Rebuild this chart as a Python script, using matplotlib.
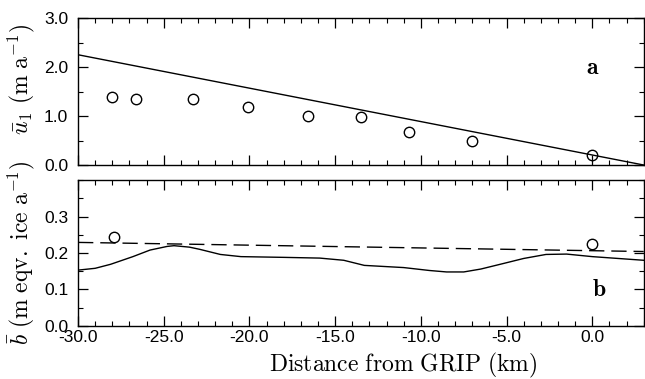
import matplotlib
matplotlib.use("Agg")
import matplotlib.pyplot as plt
from matplotlib.ticker import MultipleLocator, FormatStrFormatter

plt.rcParams["mathtext.fontset"] = "cm"
plt.rcParams["font.family"] = ["Liberation Sans", "DejaVu Sans"]
plt.rcParams["axes.unicode_minus"] = False

# panel a: mean horizontal velocity
u_line_x = [-30.0, 3.0]
u_line_y = [2.25, 0.0]
u_obs_x = [-28.0, -26.6, -23.3, -20.1, -16.6, -13.5, -10.7, -7.0, 0.0]
u_obs_y = [1.38, 1.35, 1.35, 1.18, 1.00, 0.99, 0.67, 0.50, 0.20]

# panel b: accumulation
b_dash_x = [-30.0, 3.0]
b_dash_y = [0.229, 0.204]
b_curve_x = [-30.0, -29.0, -28.1, -26.8, -25.8, -24.8, -24.4, -23.5, -22.9, -21.7,
             -20.5, -18.0, -15.9, -14.5, -13.3, -11.0, -9.5, -8.5, -7.5, -6.5,
             -5.2, -4.0, -2.7, -1.5, 0.0, 1.5, 3.0]
b_curve_y = [0.153, 0.158, 0.169, 0.190, 0.208, 0.218, 0.220, 0.216, 0.210, 0.196,
             0.190, 0.188, 0.186, 0.180, 0.166, 0.160, 0.152, 0.148, 0.148, 0.156,
             0.171, 0.185, 0.196, 0.197, 0.190, 0.185, 0.180]
b_obs_x = [-27.9, 0.0]
b_obs_y = [0.245, 0.225]

fig = plt.figure(figsize=(6.45, 3.79), dpi=100)
ax1 = fig.add_axes([0.121, 0.5646, 0.877, 0.3879])
ax2 = fig.add_axes([0.121, 0.140, 0.877, 0.385])

ax1.plot(u_line_x, u_line_y, color="black", lw=1.0)
ax1.plot(u_obs_x, u_obs_y, "o", ms=7.5, mfc="none", mec="black", mew=1.0)
ax1.set_ylim(0, 3.0)
ax1.yaxis.set_major_locator(MultipleLocator(1.0))
ax1.yaxis.set_minor_locator(MultipleLocator(0.5))
ax1.yaxis.set_major_formatter(FormatStrFormatter("%.1f"))
ax1.tick_params(labelbottom=False)
ax1.text(0.0, 1.98, r"$\mathbf{a}$", fontsize=17, ha="center", va="center")
ax1.set_ylabel(r"$\bar{u}_1\ (\mathrm{m\ a}^{-1})$", fontsize=17)
ax1.yaxis.set_label_coords(-0.072, 0.58)

ax2.plot(b_dash_x, b_dash_y, color="black", lw=1.0, dashes=(11, 5))
ax2.plot(b_curve_x, b_curve_y, color="black", lw=1.0)
ax2.plot(b_obs_x, b_obs_y, "o", ms=7.5, mfc="none", mec="black", mew=1.0)
ax2.set_ylim(0, 0.4)
ax2.set_yticks([0.0, 0.1, 0.2, 0.3])
ax2.yaxis.set_minor_locator(MultipleLocator(0.05))
ax2.yaxis.set_major_formatter(FormatStrFormatter("%.1f"))
ax2.xaxis.set_major_formatter(FormatStrFormatter("%.1f"))
ax2.text(0.4, 0.098, r"$\mathbf{b}$", fontsize=17, ha="center", va="center")
ax2.set_ylabel(r"$\bar{b}\ (\mathrm{m\ eqv.\ ice\ a}^{-1})$", fontsize=17)
ax2.yaxis.set_label_coords(-0.072, 0.5)
ax2.set_xlabel(r"$\mathrm{Distance\ from\ GRIP\ (km)}$", fontsize=17)
ax2.xaxis.set_label_coords(0.574, -0.17)

for ax in (ax1, ax2):
    ax.set_xlim(-30, 3)
    ax.xaxis.set_major_locator(MultipleLocator(5))
    ax.xaxis.set_minor_locator(MultipleLocator(1))
    ax.tick_params(which="both", direction="in", top=True, right=True, labelsize=12.5)
    ax.tick_params(which="major", length=7, width=0.9)
    ax.tick_params(which="minor", length=3.5, width=0.8)
    ax.tick_params(axis="y", pad=7)
    ax.tick_params(axis="x", pad=3)
    for s in ax.spines.values():
        s.set_linewidth(1.0)

fig.savefig("out.png", dpi=100)
